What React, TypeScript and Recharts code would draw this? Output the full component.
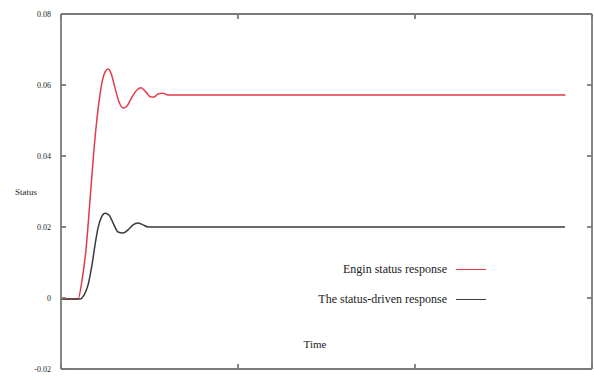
import React from 'react';
import { LineChart, Line, XAxis, YAxis, Legend, Label } from 'recharts';

const redTime = [0, 0.96, 1.19, 1.41, 1.64, 1.86, 2.09, 2.32, 2.49, 2.66, 2.82, 3.05, 3.28, 3.5, 3.73, 4.01, 4.29, 4.52, 4.8, 5.08, 5.25, 5.48, 5.76, 6.05, 28.5];
const redValue = [-0.0003, -0.0003, 0.0051, 0.0135, 0.0276, 0.0417, 0.053, 0.0608, 0.0637, 0.0645, 0.0634, 0.0592, 0.0552, 0.0535, 0.0541, 0.0566, 0.0586, 0.0592, 0.058, 0.0566, 0.0566, 0.0575, 0.0577, 0.0572, 0.0572];

const blackTime = [0, 1.07, 1.3, 1.53, 1.75, 1.92, 2.09, 2.26, 2.49, 2.71, 2.99, 3.22, 3.5, 3.79, 4.07, 4.35, 4.63, 4.92, 5.31, 28.47];
const blackValue = [-0.0003, -0.0003, 0.0008, 0.0037, 0.0093, 0.0149, 0.0197, 0.0225, 0.0239, 0.0234, 0.0206, 0.0186, 0.0183, 0.0192, 0.0206, 0.0211, 0.0206, 0.02, 0.02, 0.02];

const yTicks = [-0.02, 0, 0.02, 0.04, 0.06, 0.08];
const yTickLabels = ['-0.02', '0', '0.02', '0.04', '0.06', '0.08'];
const xTicks = [0, 10, 20, 30];

const seriesNames = ['Engin status response', 'The status-driven response'];
const seriesColors = ['#e23a48', '#3a3a3a'];

const redData = redTime.map((t, i) => ({ t, v: redValue[i] }));
const blackData = blackTime.map((t, i) => ({ t, v: blackValue[i] }));

const FONT = '"Liberation Serif", "DejaVu Serif", serif';
const FRAME = '#7a7a7a';

const YTick = (props: any) => {
  const { x, y, payload } = props;
  const idx = yTicks.findIndex((t) => Math.abs(t - payload.value) < 1e-9);
  return (
    <text x={x} y={y} dy={3} textAnchor="end" fontFamily={FONT} fontSize={8} fill="#222">
      {idx >= 0 ? yTickLabels[idx] : ''}
    </text>
  );
};

const LegendContent = () => (
  <div style={{ fontFamily: FONT, fontSize: 12, color: '#222' }}>
    {seriesNames.map((name, i) => (
      <div key={name} style={{ display: 'flex', alignItems: 'center', justifyContent: 'flex-end', height: 30 }}>
        <span style={{ whiteSpace: 'nowrap' }}>{name}</span>
        <span style={{ display: 'inline-block', width: 30, height: 0, borderTop: `1.5px solid ${seriesColors[i]}`, marginLeft: 9 }} />
      </div>
    ))}
  </div>
);

export default function App() {
  return (
    <div style={{ position: 'absolute', left: 0, top: 0, background: '#fff' }}>
      <LineChart width={594} height={376} margin={{ top: 0, right: 0, bottom: 0, left: 0 }}>
        <XAxis
          xAxisId="b"
          dataKey="t"
          type="number"
          domain={[0, 30]}
          ticks={xTicks}
          interval={0}
          height={7}
          tickSize={-5}
          tickFormatter={() => ''}
          stroke={FRAME}
          strokeWidth={1.8}
        >
          <Label
            content={() => (
              <text x={315} y={348} textAnchor="middle" fontFamily={FONT} fontSize={11} fill="#222">Time</text>
            )}
          />
        </XAxis>
        <XAxis
          xAxisId="top"
          orientation="top"
          dataKey="t"
          type="number"
          domain={[0, 30]}
          ticks={xTicks}
          interval={0}
          height={14}
          tickSize={-5}
          tickFormatter={() => ''}
          stroke={FRAME}
          strokeWidth={1.8}
        />
        <YAxis
          yAxisId="l"
          type="number"
          domain={[-0.02, 0.08]}
          ticks={yTicks}
          interval={0}
          width={61}
          tickSize={-5}
          tickMargin={15}
          tick={<YTick />}
          stroke={FRAME}
          strokeWidth={1.8}
          allowDataOverflow
        >
          <Label
            content={() => (
              <text x={15} y={195} textAnchor="start" fontFamily={FONT} fontSize={9} fill="#222">Status</text>
            )}
          />
        </YAxis>
        <YAxis
          yAxisId="r"
          orientation="right"
          type="number"
          domain={[-0.02, 0.08]}
          ticks={yTicks}
          interval={0}
          width={2}
          tickSize={-5}
          tickFormatter={() => ''}
          stroke={FRAME}
          strokeWidth={1.8}
          allowDataOverflow
        />
        <Legend
          verticalAlign="middle"
          align="center"
          layout="vertical"
          content={<LegendContent />}
          wrapperStyle={{ position: 'absolute', left: 250, top: 254, width: 236 }}
        />
        <Line
          xAxisId="b"
          yAxisId="l"
          data={redData}
          dataKey="v"
          name={seriesNames[0]}
          type="monotone"
          stroke={seriesColors[0]}
          strokeWidth={1.5}
          dot={false}
          isAnimationActive={false}
        />
        <Line
          xAxisId="top"
          yAxisId="r"
          data={blackData}
          dataKey="v"
          name={seriesNames[1]}
          type="monotone"
          stroke={seriesColors[1]}
          strokeWidth={1.5}
          dot={false}
          isAnimationActive={false}
        />
      </LineChart>
    </div>
  );
}
